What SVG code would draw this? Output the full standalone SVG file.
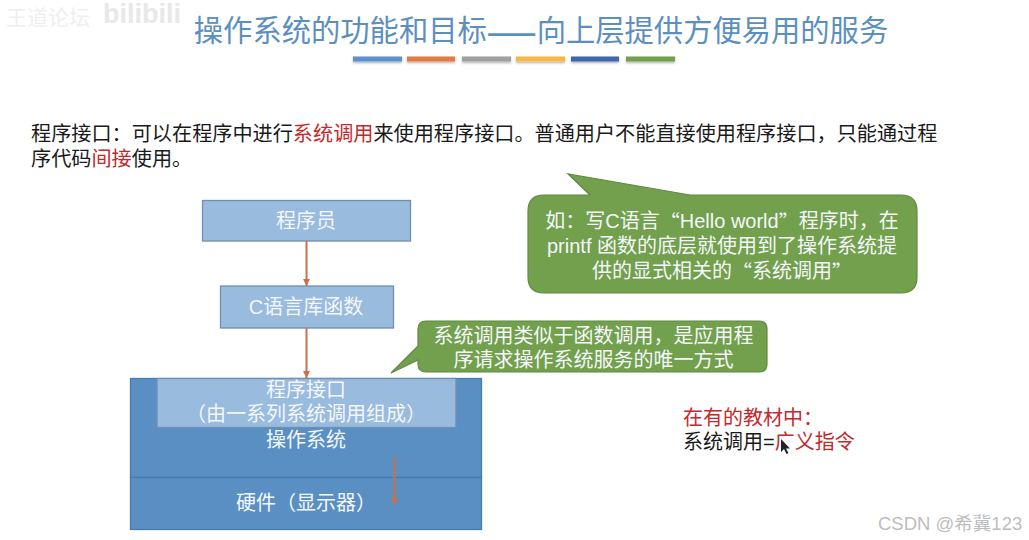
<svg xmlns="http://www.w3.org/2000/svg" width="1029" height="540" viewBox="0 0 1029 540">
<style>
text{font-family:"Liberation Sans","Noto Sans CJK SC",sans-serif;font-size:20px;dominant-baseline:central}
.q{font-family:"Noto Sans CJK SC",sans-serif}
.c{text-anchor:middle;fill:#f4f7fb}
.b{fill:#1a1a1a}
.r{fill:#c3282c}
.light{fill:#99bbdd;stroke:#6f90b4;stroke-width:1.3}
.os{fill:#5a8fc4;stroke:#4a7ca9;stroke-width:1.3}
.green{fill:#72a04c;stroke:#5f8a40;stroke-width:1.2}
.conn{stroke:#c9704a;stroke-width:2;fill:none;marker-end:url(#ah)}
</style>
<defs>
<marker id="ah" markerWidth="8" markerHeight="8" refX="7" refY="3.500" orient="auto" markerUnits="userSpaceOnUse"><path d="M0 0L7 3.500L0 7Z" fill="#c9704a"/></marker>
<filter id="sh" x="-10%" y="-80%" width="120%" height="300%"><feDropShadow dx="0" dy="1.5" stdDeviation="1.2" flood-color="#000" flood-opacity=".3"/></filter>
</defs>
<rect width="1029" height="540" fill="#fff"/>
<g id="watermark"><text x="6" y="17" style="font-size:21px;fill:#efefef">王道论坛</text><text x="103" y="14" style="font-size:27px;font-weight:700;fill:#e8e8e8">bilibili</text></g>
<g id="title"><text x="541" y="30" style="font-size:29.300px;fill:#5b8fbf;text-anchor:middle">操作系统的功能和目标<tspan class="q" font-weight="700">&#x2014;&#x2014;</tspan>向上层提供方便易用的服务</text>
<g filter="url(#sh)"><rect x="353" y="56.500" width="49" height="5" fill="#5a93cc"/><rect x="407" y="56.500" width="48" height="5" fill="#e07b45"/><rect x="462" y="56.500" width="49" height="5" fill="#a0a0a0"/><rect x="516" y="56.500" width="49" height="5" fill="#f5b74a"/><rect x="571" y="56.500" width="48" height="5" fill="#3f66ad"/><rect x="626" y="56.500" width="49" height="5" fill="#72a04c"/></g></g>
<g id="intro" style="font-size:20.150px"><text x="31" y="133.500" class="b" style="font-size:20.150px">程序接口&#xFF1A;可以在程序中进行<tspan class="r">系统调用</tspan>来使用程序接口。普通用户不能直接使用程序接口&#xFF0C;只能通过程</text><text x="31" y="158.500" class="b" style="font-size:20.150px">序代码<tspan class="r">间接</tspan>使用。</text></g>
<g id="os-box"><rect class="os" x="130.500" y="378.500" width="351" height="99"/></g>
<g id="hardware"><rect class="os" x="130.500" y="477.500" width="351" height="52"/><text class="c" x="306" y="503">硬件&#xFF08;显示器&#xFF09;</text></g>
<g id="os-label"><text class="c" x="306" y="440">操作系统</text></g>
<g id="programmer"><rect class="light" x="202.500" y="200.500" width="208" height="40.500"/><text class="c" x="306" y="221">程序员</text></g>
<g id="clib"><rect class="light" x="220.500" y="286" width="173" height="42"/><text class="c" x="306" y="307">C语言库函数</text></g>
<g id="interface"><rect class="light" x="157" y="378.500" width="299" height="49"/><text class="c" x="306" y="390">程序接口</text><text class="c" x="306" y="414">&#xFF08;由一系列系统调用组成&#xFF09;</text></g>
<g id="connectors">
<path class="conn" d="M306.500 241V286"/>
<path class="conn" d="M306.500 328V378"/>
<path class="conn" d="M394.500 457V505"/>
</g>
<g id="callout-printf"><path class="green" d="M590 195L568 174L690 195H901Q917 195 917 211V277Q917 293 901 293H544Q528 293 528 277V211Q528 195 544 195Z"/>
<text class="c" x="722" y="221">如&#xFF1A;写C语言<tspan class="q">&#x201C;</tspan>Hello world<tspan class="q">&#x201D;</tspan>程序时&#xFF0C;在</text><text class="c" x="722" y="246">printf 函数的底层就使用到了操作系统提</text><text class="c" x="722" y="271">供的显式相关的<tspan class="q">&#x201C;</tspan>系统调用<tspan class="q">&#x201D;</tspan></text></g>
<g id="callout-syscall"><path class="green" d="M418 329Q418 321 426 321H759Q767 321 767 329V364Q767 372 759 372H426Q418 372 418 364V360L391 373L418 346Z"/>
<text class="c" x="593.500" y="336">系统调用类似于函数调用&#xFF0C;是应用程</text><text class="c" x="593.500" y="360">序请求操作系统服务的唯一方式</text></g>
<g id="note"><text x="683" y="418" class="r">在有的教材中&#xFF1A;</text><text x="683" y="442" class="b">系统调用=<tspan class="r">广义指令</tspan></text></g>
<path id="cursor" d="M781 439V452L784 449L786.500 454L788.500 453L786 448.500H790Z" fill="#222"/>
<text id="csdn" x="878" y="523" style="font-size:18.500px;fill:#bdbdbd">CSDN @希冀123</text>
</svg>
